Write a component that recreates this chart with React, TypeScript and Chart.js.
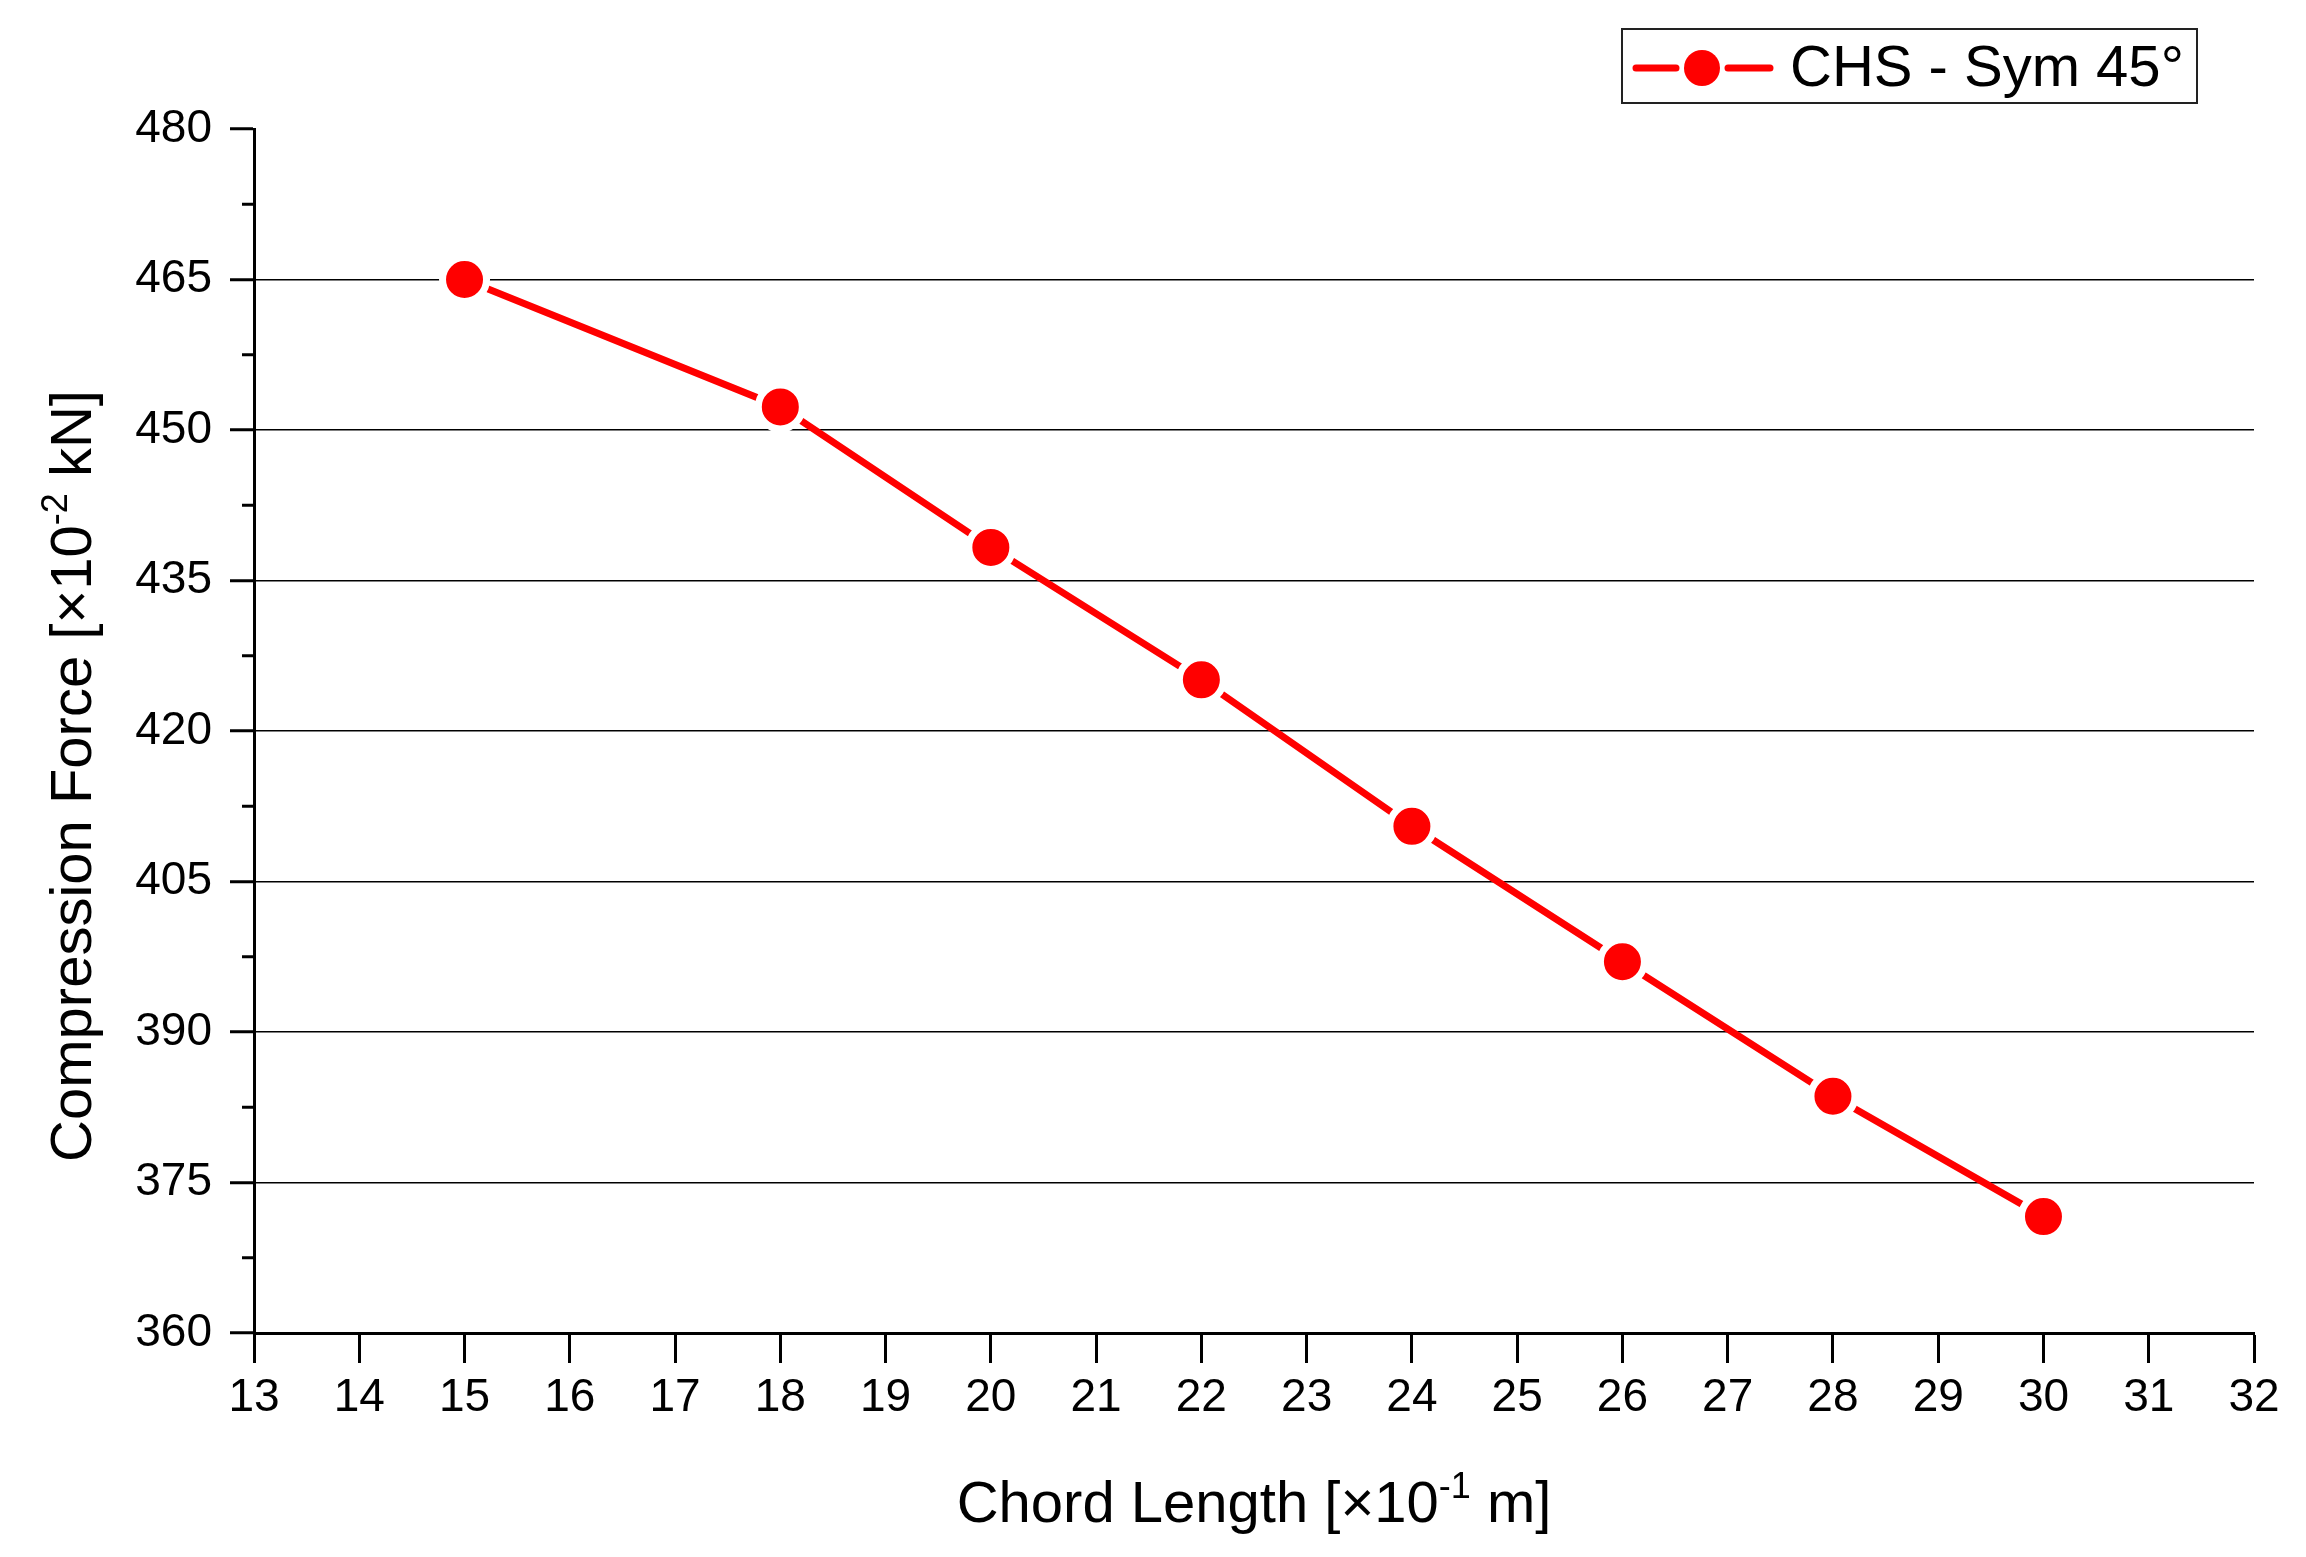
import { useEffect, useRef } from 'react';
import { Chart, registerables } from 'chart.js';

Chart.register(...registerables);

const FONT = 'Arial, "Liberation Sans", sans-serif';

// ---- data ----
const chordLength = [15, 18, 20, 22, 24, 26, 28, 30];
const compressionForce = [465.0, 452.3, 438.3, 425.1, 410.5, 397.0, 383.6, 371.6];
const seriesLabel = 'CHS - Sym 45°';
const xMin = 13;
const xMax = 32;
const yMin = 360;
const yMax = 480;
const yMajorStep = 15;
const yMinorStep = 7.5;

type Seg = { t: string; sup?: boolean };
const xTitle: Seg[] = [{ t: 'Chord Length [×10' }, { t: '-1', sup: true }, { t: ' m]' }];
const yTitle: Seg[] = [{ t: 'Compression Force [×10' }, { t: '-2', sup: true }, { t: ' kN]' }];

function drawRich(ctx: CanvasRenderingContext2D, segs: Seg[], cx: number, baseline: number, size: number) {
  const supSize = Math.round(size * 0.62);
  let total = 0;
  const widths = segs.map((s) => {
    ctx.font = `${s.sup ? supSize : size}px ${FONT}`;
    const w = ctx.measureText(s.t).width;
    total += w;
    return w;
  });
  let x = cx - total / 2;
  ctx.textAlign = 'left';
  ctx.textBaseline = 'alphabetic';
  ctx.fillStyle = '#000';
  segs.forEach((s, i) => {
    ctx.font = `${s.sup ? supSize : size}px ${FONT}`;
    ctx.fillText(s.t, x, s.sup ? baseline - size * 0.42 : baseline);
    x += widths[i];
  });
}

const decorPlugin = {
  id: 'decor',
  afterDraw(chart: any) {
    const ctx: CanvasRenderingContext2D = chart.ctx;
    const y = chart.scales.y;
    const area = chart.chartArea;
    ctx.save();
    // minor ticks on y axis
    ctx.strokeStyle = '#000';
    ctx.lineWidth = 3;
    for (let v = yMin + yMinorStep; v < yMax; v += yMajorStep) {
      const py = y.getPixelForValue(v);
      ctx.beginPath();
      ctx.moveTo(area.left - 12, py);
      ctx.lineTo(area.left, py);
      ctx.stroke();
    }
    // axis titles
    drawRich(ctx, xTitle, (area.left + area.right) / 2, 1522, 58);
    ctx.save();
    ctx.translate(70, 776);
    ctx.rotate(-Math.PI / 2);
    drawRich(ctx, yTitle, 0, 21, 58);
    ctx.restore();

    // legend
    const bx = 1622, by = 29, bw = 575, bh = 74;
    ctx.lineWidth = 2;
    ctx.strokeStyle = '#222';
    ctx.strokeRect(bx, by, bw, bh);
    const ly = 68;
    ctx.strokeStyle = '#ff0000';
    ctx.lineWidth = 7;
    ctx.lineCap = 'round';
    ctx.beginPath();
    ctx.moveTo(1636, ly);
    ctx.lineTo(1676, ly);
    ctx.moveTo(1728, ly);
    ctx.lineTo(1770, ly);
    ctx.stroke();
    ctx.fillStyle = '#ff0000';
    ctx.beginPath();
    ctx.arc(1702, ly, 18, 0, Math.PI * 2);
    ctx.fill();
    ctx.fillStyle = '#000';
    ctx.font = `58px ${FONT}`;
    ctx.textAlign = 'left';
    ctx.textBaseline = 'middle';
    ctx.fillText(chart.data.datasets[0].label, 1790, ly + 2);
    ctx.restore();
  },
};

export default function App() {
  const ref = useRef<HTMLCanvasElement | null>(null);
  useEffect(() => {
    document.body.style.margin = '0';
    const canvas = ref.current!;
    const chart = new Chart(canvas, {
      type: 'line',
      data: {
        datasets: [
          {
            label: seriesLabel,
            data: chordLength.map((x, i) => ({ x, y: compressionForce[i] })),
            borderColor: '#ff0000',
            borderWidth: 7,
            backgroundColor: '#ff0000',
            pointBackgroundColor: '#ff0000',
            pointBorderColor: '#ffffff',
            pointBorderWidth: 7,
            pointRadius: 22,
            pointHoverRadius: 22,
            tension: 0,
            clip: false,
          },
        ],
      },
      options: {
        animation: false,
        responsive: false,
        events: [],
        layout: { padding: { top: 129, right: 52, left: 0, bottom: 0 } },
        plugins: { legend: { display: false }, tooltip: { enabled: false } },
        scales: {
          x: {
            type: 'linear',
            min: xMin,
            max: xMax,
            afterFit: (s: any) => {
              s.height = 224;
            },
            ticks: {
              stepSize: 1,
              color: '#000',
              font: { family: FONT, size: 46 },
              padding: 8,
              maxRotation: 0,
              autoSkip: false,
            },
            grid: {
              drawOnChartArea: false,
              tickLength: 30,
              tickColor: '#000',
              tickWidth: 3,
            },
            border: { display: true, color: '#000', width: 3 },
          },
          y: {
            type: 'linear',
            min: yMin,
            max: yMax,
            afterFit: (s: any) => {
              s.width = 254;
            },
            ticks: {
              stepSize: yMajorStep,
              color: '#000',
              font: { family: FONT, size: 46 },
              padding: 18,
            },
            grid: {
              color: (c: any) => (c.tick && (c.tick.value === yMin || c.tick.value === yMax) ? 'rgba(0,0,0,0)' : '#000'),
              lineWidth: 1.5,
              tickLength: 24,
              tickColor: '#000',
              tickWidth: 3,
            },
            border: { display: true, color: '#000', width: 3 },
          },
        },
      },
      plugins: [decorPlugin],
    });
    return () => chart.destroy();
  }, []);
  return (
    <div style={{ width: 2306, height: 1557, background: '#fff' }}>
      <canvas ref={ref} width={2306} height={1557} style={{ display: 'block' }} />
    </div>
  );
}
